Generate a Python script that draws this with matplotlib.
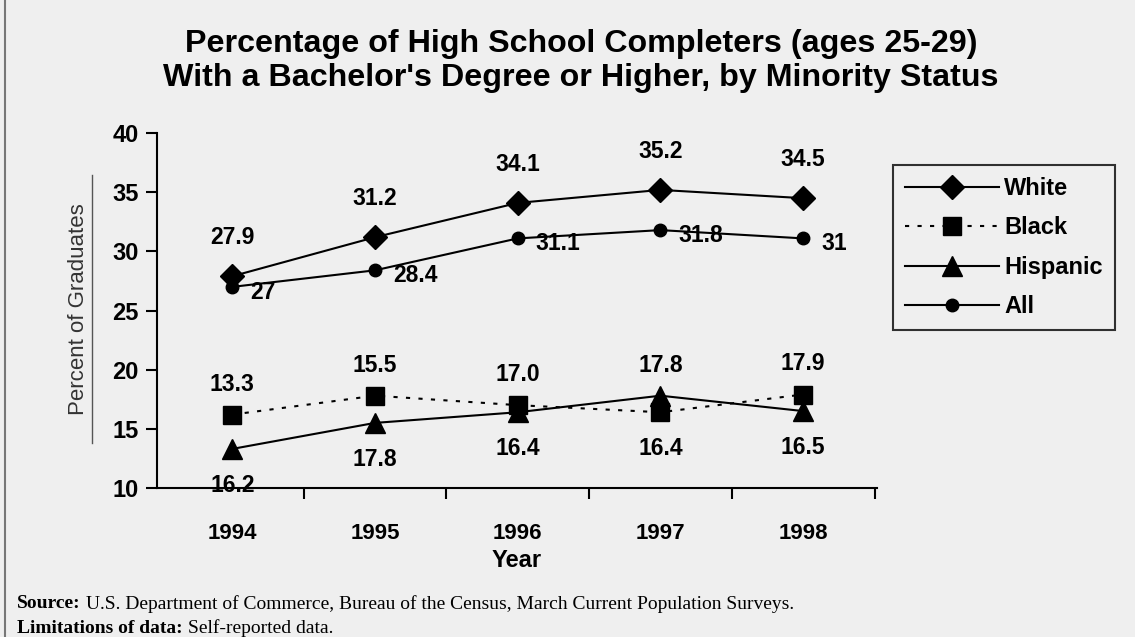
import numpy as np
import matplotlib.pyplot as plt
from matplotlib.lines import Line2D

# dados
anos = [1994, 1995, 1996, 1997, 1998]
white = [27.9, 31.2, 34.1, 35.2, 34.5]
black = [16.2, 17.8, 17.0, 16.4, 17.9]
hispanic = [13.3, 15.5, 16.4, 17.8, 16.5]
todos = [27.0, 28.4, 31.1, 31.8, 31.1]

rotulos_white = ["27.9", "31.2", "34.1", "35.2", "34.5"]
rotulos_all = ["27", "28.4", "31.1", "31.8", "31"]
# rotulos do grafico original (acima e abaixo do par black/hispanic)
rotulos_cima = ["13.3", "15.5", "17.0", "17.8", "17.9"]
rotulos_baixo = ["16.2", "17.8", "16.4", "16.4", "16.5"]

fundo = "#efefef"
plt.rcParams['font.family'] = ['Liberation Sans', 'DejaVu Sans']

fig = plt.figure(figsize=(11.35, 6.37), dpi=100, facecolor=fundo)
ax = fig.add_axes([0.138, 0.234, 0.635, 0.557], facecolor=fundo)

ax.plot(anos, white, color='black', lw=1.5, marker='D', ms=12, label='White')
ax.plot(anos, black, color='black', lw=1.5, ls=(0, (2, 4)), marker='s', ms=13, label='Black')
ax.plot(anos, hispanic, color='black', lw=1.5, marker='^', ms=14, label='Hispanic')
ax.plot(anos, todos, color='black', lw=1.5, marker='o', ms=9, label='All')

fs = 16.5
for x, y, t in zip(anos, white, rotulos_white):
    ax.annotate(t, (x, y), xytext=(0, 28), textcoords='offset points',
                ha='center', va='center', fontsize=fs, fontweight='bold')
for x, y, t in zip(anos, todos, rotulos_all):
    ax.annotate(t, (x, y), xytext=(13, -4), textcoords='offset points',
                ha='left', va='center', fontsize=fs, fontweight='bold')
for x, b, h, t1, t2 in zip(anos, black, hispanic, rotulos_cima, rotulos_baixo):
    ax.annotate(t1, (x, max(b, h)), xytext=(0, 22), textcoords='offset points',
                ha='center', va='center', fontsize=fs, fontweight='bold')
    ax.annotate(t2, (x, min(b, h)), xytext=(0, -26), textcoords='offset points',
                ha='center', va='center', fontsize=fs, fontweight='bold')

ax.set_xlim(1993.47, 1998.52)
ax.set_ylim(10, 40)
ax.set_yticks([10, 15, 20, 25, 30, 35, 40])
ax.set_xticks(anos)
ax.set_xticks([1994.5, 1995.5, 1996.5, 1997.5, 1998.5], minor=True)
ax.tick_params(axis='x', which='major', length=0, pad=25, labelsize=16)
ax.tick_params(axis='x', which='minor', length=8, width=1.5, direction='out')
ax.tick_params(axis='y', length=8, width=1.5, direction='out', labelsize=17, pad=5)
for lab in ax.get_xticklabels() + ax.get_yticklabels():
    lab.set_fontweight('bold')
for s in ['top', 'right']:
    ax.spines[s].set_visible(False)
for s in ['left', 'bottom']:
    ax.spines[s].set_linewidth(1.5)

ax.set_xlabel("Year", fontsize=17, fontweight='bold', labelpad=4)
fig.text(0.069, 0.515, "Percent of Graduates", rotation=90, ha='center', va='center',
         fontsize=16, color='#333333')
fig.add_artist(Line2D([0.081, 0.081], [0.305, 0.725], color='#555555', lw=1))

fig.text(0.512, 0.931, "Percentage of High School Completers (ages 25-29)",
         ha='center', va='center', fontsize=23.2, fontweight='bold')
fig.text(0.512, 0.878, "With a Bachelor's Degree or Higher, by Minority Status",
         ha='center', va='center', fontsize=23.2, fontweight='bold')

leg = fig.legend(loc='upper left', bbox_to_anchor=(0.787, 0.741), fontsize=17,
                 frameon=True, fancybox=False, handlelength=4.0, labelspacing=0.7,
                 borderpad=0.5, handletextpad=0.2, borderaxespad=0)
leg.get_frame().set_edgecolor('black')
leg.get_frame().set_linewidth(1.5)
leg.get_frame().set_facecolor(fundo)
for t in leg.get_texts():
    t.set_fontweight('bold')

# nota de rodape: parte em negrito + resto
notas = [("Source:", "U.S. Department of Commerce, Bureau of the Census, March Current Population Surveys.", 0.052),
         ("Limitations of data:", "Self-reported data.", 0.014)]
for negrito, resto, yy in notas:
    t0 = fig.text(0.015, yy, negrito, fontsize=14, va='center', fontweight='bold',
                  family='Liberation Serif')
    fig.canvas.draw()
    ax.annotate(resto, xy=(1, 0.5), xycoords=t0, xytext=(4, 0), textcoords='offset points',
                va='center', ha='left', fontsize=14, family='Liberation Serif',
                annotation_clip=False)
fig.add_artist(Line2D([0.004, 0.004], [0.0, 1.0], color='#777777', lw=1.5))

plt.savefig("out.png", dpi=100, facecolor=fundo)
